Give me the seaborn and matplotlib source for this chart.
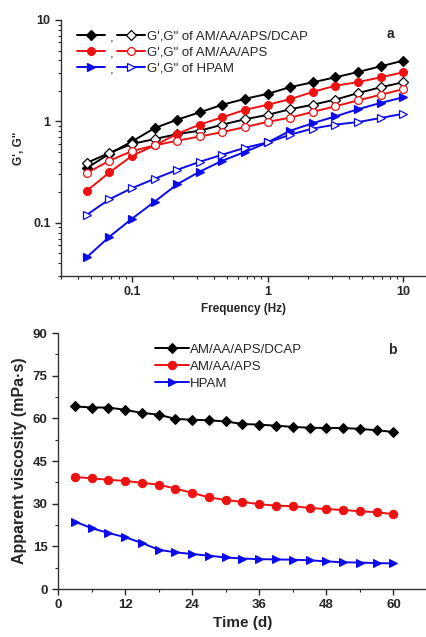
import numpy as np
import pandas as pd
import matplotlib
matplotlib.use("Agg")
import matplotlib.pyplot as plt
import matplotlib.ticker as mticker
from matplotlib.lines import Line2D
from matplotlib.text import Text
from matplotlib.legend_handler import HandlerBase
import seaborn as sns

# ---------------- data ----------------
freq = [0.0464, 0.0681, 0.1, 0.147, 0.215, 0.316, 0.464, 0.681, 1.0,
        1.47, 2.15, 3.16, 4.64, 6.81, 10.0]
dcap_g1 = [0.347, 0.48, 0.635, 0.86, 1.04, 1.23, 1.46, 1.67, 1.87, 2.18,
           2.43, 2.72, 3.07, 3.49, 3.97]
dcap_g2 = [0.39, 0.49, 0.60, 0.67, 0.75, 0.81, 0.93, 1.05, 1.16, 1.32,
           1.46, 1.64, 1.90, 2.17, 2.43]
aps_g1 = [0.207, 0.314, 0.458, 0.58, 0.755, 0.93, 1.10, 1.30, 1.46, 1.66,
          1.95, 2.25, 2.44, 2.72, 3.05]
aps_g2 = [0.31, 0.41, 0.51, 0.58, 0.645, 0.71, 0.785, 0.88, 0.99, 1.09,
          1.24, 1.41, 1.61, 1.83, 2.08]
hpam_g1 = [0.0458, 0.073, 0.11, 0.162, 0.24, 0.32, 0.41, 0.50, 0.62, 0.81,
           0.96, 1.12, 1.32, 1.52, 1.73]
hpam_g2 = [0.12, 0.171, 0.22, 0.272, 0.333, 0.40, 0.47, 0.55, 0.62, 0.74,
           0.85, 0.93, 0.985, 1.08, 1.19]

time_d = [3, 6, 9, 12, 15, 18, 21, 24, 27, 30, 33, 36, 39, 42, 45, 48, 51,
          54, 57, 60]
visc_dcap = [64.2, 63.8, 63.8, 63.0, 61.9, 61.3, 59.8, 59.5, 59.3, 58.9,
             58.0, 57.8, 57.4, 57.0, 56.7, 56.6, 56.6, 56.3, 55.8, 55.2]
visc_aps = [39.4, 38.9, 38.4, 38.0, 37.3, 36.7, 35.3, 33.8, 32.2, 31.3,
            30.6, 29.8, 29.3, 29.1, 28.5, 28.1, 27.8, 27.3, 27.0, 26.3]
visc_hpam = [23.7, 21.4, 19.7, 18.2, 16.2, 13.8, 12.9, 12.3, 11.7, 11.1,
             10.7, 10.5, 10.4, 10.3, 10.1, 9.7, 9.4, 9.3, 9.1, 9.0]

legend_a = ["G',G\" of AM/AA/APS/DCAP", "G',G\" of AM/AA/APS", "G',G\" of HPAM"]
legend_b = ["AM/AA/APS/DCAP", "AM/AA/APS", "HPAM"]

# ---------------- style ----------------
sns.set_style("ticks")
plt.rcParams["font.family"] = ["Liberation Sans", "DejaVu Sans"]
plt.rcParams["xtick.direction"] = "out"
plt.rcParams["ytick.direction"] = "out"

BLACK, RED, BLUE = "#000000", "#ee1111", "#0b0bea"

fig = plt.figure(figsize=(4.27, 6.37), dpi=100)
axa = fig.add_axes([61 / 427, 1 - 276 / 637, 366 / 427, 256 / 637])
axb = fig.add_axes([58 / 427, 1 - 589 / 637, 369 / 427, 256 / 637])

# ---------------- panel a ----------------
series_a = [
    (dcap_g1, BLACK, "D", BLACK, 5.2),
    (dcap_g2, BLACK, "D", "white", 5.2),
    (aps_g1, RED, "o", RED, 5.6),
    (aps_g2, RED, "o", "white", 5.6),
    (hpam_g1, BLUE, ">", BLUE, 5.8),
    (hpam_g2, BLUE, ">", "white", 5.8),
]
for vals, col, mk, mfc, ms in series_a:
    df = pd.DataFrame({"freq": freq, "val": vals})
    sns.lineplot(data=df, x="freq", y="val", ax=axa, color=col, lw=1.4,
                 marker=mk, markerfacecolor=mfc, markeredgecolor=col,
                 markersize=ms, markeredgewidth=0.9, legend=False)

axa.set_xscale("log")
axa.set_yscale("log")
axa.set_xlim(0.0299, 15)
axa.set_ylim(0.0299, 10)
fmt = mticker.FuncFormatter(lambda v, p: "%g" % v)
axa.xaxis.set_major_locator(mticker.FixedLocator([0.1, 1, 10]))
axa.yaxis.set_major_locator(mticker.FixedLocator([0.1, 1, 10]))
axa.xaxis.set_major_formatter(fmt)
axa.yaxis.set_major_formatter(fmt)
axa.xaxis.set_minor_locator(mticker.LogLocator(subs=np.arange(2, 10), numticks=20))
axa.yaxis.set_minor_locator(mticker.LogLocator(subs=np.arange(2, 10), numticks=20))
axa.xaxis.set_minor_formatter(mticker.NullFormatter())
axa.yaxis.set_minor_formatter(mticker.NullFormatter())
axa.set_xlabel("Frequency (Hz)", fontsize=8.5, fontweight="bold", labelpad=3)
axa.set_ylabel("G', G\"", fontsize=8.5, fontweight="bold", labelpad=6)
axa.text(0.90, 0.945, "a", transform=axa.transAxes, fontsize=10,
         fontweight="bold", ha="center", va="center")


class PairHandler(HandlerBase):
    def create_artists(self, legend, orig_handle, xdescent, ydescent,
                       width, height, fontsize, trans):
        h1, h2 = orig_handle
        y = height / 2 - ydescent
        gap = 0.17 * width
        w = (width - gap) / 2
        arts = []
        for h, x0 in ((h1, -xdescent), (h2, -xdescent + w + gap)):
            ln = Line2D([x0, x0 + w / 2, x0 + w], [y, y, y],
                        color=h.get_color(), lw=h.get_linewidth(),
                        marker=h.get_marker(), markevery=[1],
                        markerfacecolor=h.get_markerfacecolor(),
                        markeredgecolor=h.get_markeredgecolor(),
                        markersize=h.get_markersize(),
                        markeredgewidth=h.get_markeredgewidth(),
                        transform=trans)
            arts.append(ln)
        t = Text(-xdescent + w + gap / 2, y - 0.25 * fontsize, ",",
                 ha="center", va="center", fontsize=fontsize,
                 transform=trans)
        arts.append(t)
        return arts


lines = axa.get_lines()
handles_a = [(lines[0], lines[1]), (lines[2], lines[3]), (lines[4], lines[5])]
axa.legend(handles_a, legend_a, handler_map={tuple: PairHandler()},
           loc="upper left", bbox_to_anchor=(0.045, 0.96), frameon=False,
           fontsize=9.5, handlelength=5.1, handletextpad=0.2,
           labelspacing=0.3, borderpad=0, borderaxespad=0)

# ---------------- panel b ----------------
series_b = [
    (visc_dcap, BLACK, "D", 5),
    (visc_aps, RED, "o", 6),
    (visc_hpam, BLUE, ">", 6),
]
for (vals, col, mk, ms), lab in zip(series_b, legend_b):
    df = pd.DataFrame({"time": time_d, "visc": vals})
    sns.lineplot(data=df, x="time", y="visc", ax=axb, color=col, lw=1.4,
                 marker=mk, markerfacecolor=col, markeredgecolor=col,
                 markersize=ms, label=lab)

axb.set_xlim(0, 66)
axb.set_ylim(0, 90)
axb.xaxis.set_major_locator(mticker.MultipleLocator(12))
axb.xaxis.set_minor_locator(mticker.MultipleLocator(6))
axb.yaxis.set_major_locator(mticker.MultipleLocator(15))
axb.yaxis.set_minor_locator(mticker.MultipleLocator(7.5))
axb.set_xlabel("Time (d)", fontsize=11, fontweight="bold", labelpad=3)
axb.set_ylabel("Apparent viscosity (mPa\u00b7s)", fontsize=11.5,
               fontweight="bold", labelpad=4)
axb.text(0.905, 0.935, "b", transform=axb.transAxes, fontsize=10,
         fontweight="bold", ha="center", va="center")
axb.legend(loc="upper left", bbox_to_anchor=(0.262, 0.958), frameon=False,
           fontsize=9.5, handlelength=2.6, handletextpad=0.1,
           labelspacing=0.36, borderpad=0, borderaxespad=0)

for ax, ls in ((axa, 9), (axb, 9.5)):
    sns.despine(ax=ax)
    ax.tick_params(which="major", length=4, width=1, labelsize=ls)
    ax.tick_params(which="minor", length=2.2, width=0.8)
    for s in ("left", "bottom"):
        ax.spines[s].set_linewidth(1)
        ax.spines[s].set_color("#333333")
    for lbl in ax.get_xticklabels() + ax.get_yticklabels():
        lbl.set_fontweight("bold")

fig.savefig("out.png", dpi=100)
